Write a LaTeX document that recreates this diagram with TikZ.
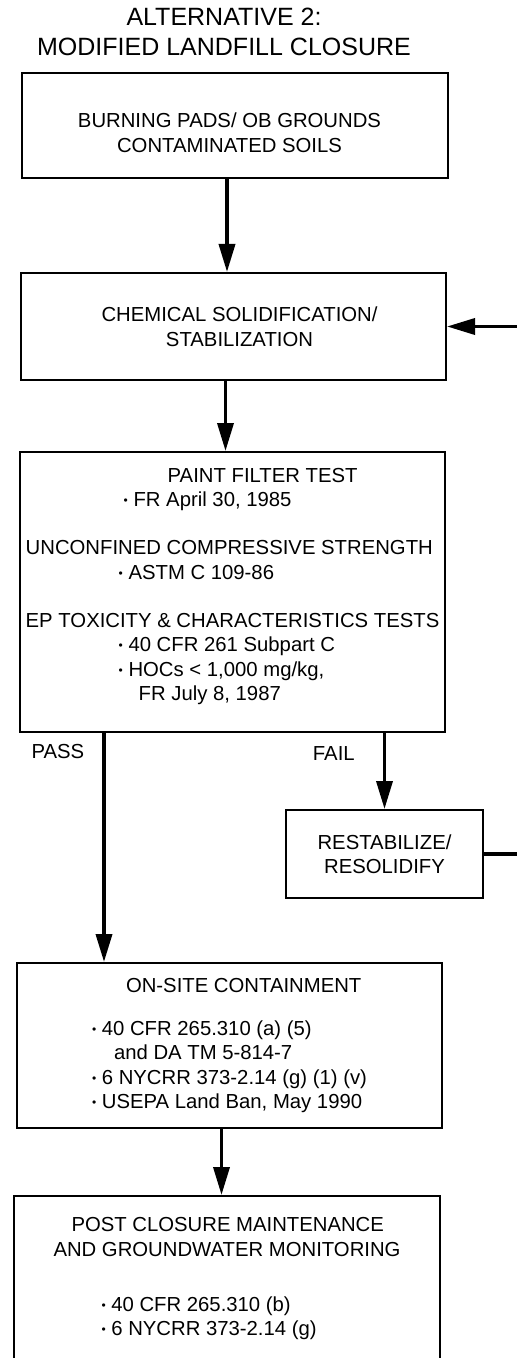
\documentclass[tikz,border=0pt]{standalone}
\usepackage{fontspec}
\setmainfont{Liberation Sans}
\usetikzlibrary{arrows.meta, positioning, calc}

\newcommand{\blt}{\raisebox{1pt}{\fontsize{6}{6}\selectfont•}}

\begin{document}
\begin{tikzpicture}[
  x=0.5pt, y=-0.5pt,
  box/.style={draw, line width=1pt, inner sep=0pt, font=\fontsize{10.15}{12.25}\selectfont},
  arrow/.style={-{Triangle[length=14pt, width=8pt]}, line width=1.8pt},
  tag/.style={inner sep=0pt, font=\fontsize{10.15}{12.25}\selectfont}
]

% page
\path[use as bounding box, fill=white] (0,0) rectangle (517,1358);
\clip (0,0) rectangle (517,1358);

% Title
\node[align=center, font=\fontsize{12.5}{15}\selectfont] (title) at (224,32)
  {ALTERNATIVE 2:\\MODIFIED LANDFILL CLOSURE};

% Source
\node[box, minimum width=213pt, minimum height=52.5pt, align=center] (soils) at (235,125.5)
  {\rule{0pt}{14.4pt}BURNING PADS/ OB GROUNDS\hspace*{5.5pt}\\CONTAMINATED SOILS\hspace*{5.5pt}};

% Treatment
\node[box, minimum width=212.5pt, minimum height=53.5pt, align=center] (chem) at (233.5,326.5)
  {\hspace*{6pt}CHEMICAL SOLIDIFICATION/\\\hspace*{6pt}STABILIZATION};

% Tests
\node[box, minimum width=212.5pt, minimum height=140pt, align=left] (tests) at (232.5,592)
  {\hspace*{71pt}PAINT FILTER TEST\\
   \hspace*{49pt}\blt\ FR April 30, 1985\\[11.75pt]
   UNCONFINED COMPRESSIVE STRENGTH\\
   \hspace*{46.5pt}\blt\ ASTM C 109-86\\[11.75pt]
   EP TOXICITY \& CHARACTERISTICS TESTS\\
   \hspace*{46.5pt}\blt\ 40 CFR 261 Subpart C\\
   \hspace*{46.5pt}\blt\ HOCs < 1,000 mg/kg,\\
   \hspace*{56.5pt}FR July 8, 1987\rule[-7.5pt]{0pt}{1pt}};

% Retreatment
\node[box, minimum width=98.5pt, minimum height=44pt, align=center] (restab) at (384.5,854)
  {RESTABILIZE/\\RESOLIDIFY};

% Containment
\node[box, minimum width=212.5pt, minimum height=82.5pt, align=left] (contain) at (229.5,1045.5)
  {\hspace*{17pt}ON-SITE CONTAINMENT\\[9.25pt]
   \blt\ 40 CFR 265.310 (a) (5)\\
   \hspace*{11pt}and DA TM 5-814-7\\
   \blt\ 6 NYCRR 373-2.14 (g) (1) (v)\\
   \blt\ USEPA Land Ban, May 1990};

% Post closure
\node[box, anchor=north, minimum width=213pt, minimum height=100pt, align=left] (post) at (227,1195)
  {\hspace*{9pt}POST CLOSURE MAINTENANCE\\
   AND GROUNDWATER MONITORING\\[15.25pt]
   \hspace*{24pt}\blt\ 40 CFR 265.310 (b)\\
   \hspace*{24pt}\blt\ 6 NYCRR 373-2.14 (g)\rule[-19.6pt]{0pt}{1pt}};

% Arrows
\coordinate (s1) at ([xshift=-4pt]soils.south);
\coordinate (s2) at ([xshift=-4pt]chem.south);
\coordinate (s3) at ([xshift=42.5pt]tests.south west);
\coordinate (s4) at ([xshift=-4pt]contain.south);

\draw[arrow] (s1) -- (s1 |- chem.north);
\draw[arrow] (s2) -- (s2 |- tests.north);
\draw[arrow] (s3) -- node[tag, pos=0.08, left=9pt] (pass) {PASS} (s3 |- contain.north);
\draw[arrow] (restab.north |- tests.south) -- node[tag, pos=0.27, left=14pt] (fail) {FAIL} (restab.north);
\draw[arrow] (restab.east) -- ++(60,0) |- (chem.east);
\draw[arrow] (s4) -- (s4 |- post.north);

\end{tikzpicture}
\end{document}
